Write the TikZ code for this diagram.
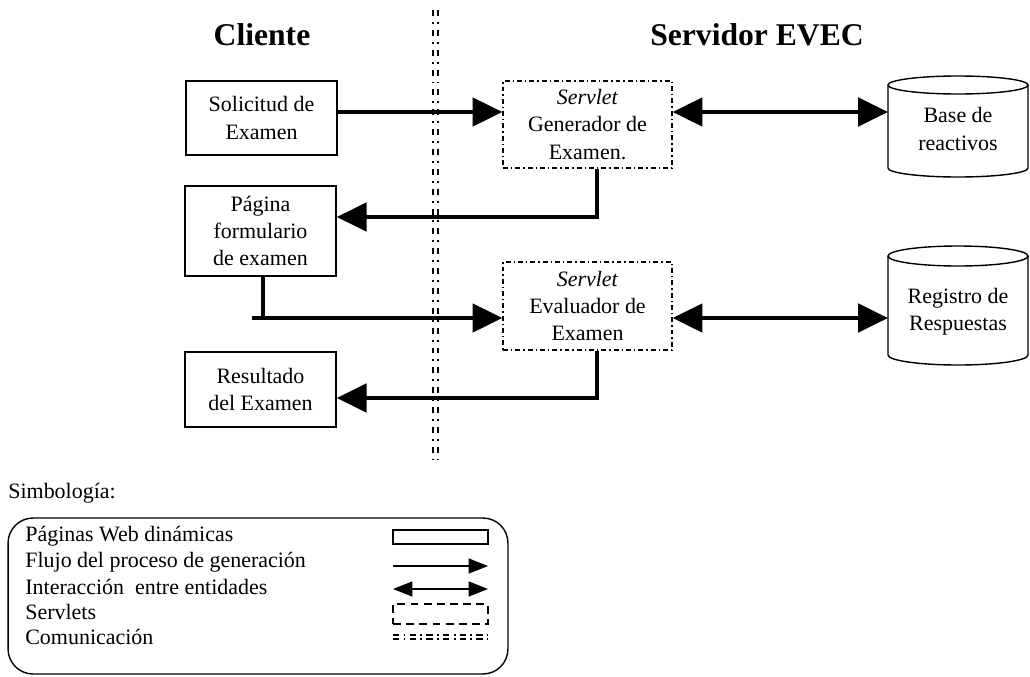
\documentclass[tikz,border=0pt]{standalone}
\usepackage{fontspec}
\setmainfont{Liberation Serif}
\usetikzlibrary{arrows.meta,calc}
\begin{document}
\begin{tikzpicture}[x=0.02cm,y=-0.02cm,
  txt/.style={font=\fontsize{12.5}{15.5}\selectfont, align=center},
  ltxt/.style={font=\fontsize{12.5}{15}\selectfont, anchor=west, inner sep=0pt},
  pagebox/.style={draw, line width=0.8pt, minimum width=3.02cm, inner sep=0pt, txt},
  servletbox/.style={draw, line width=0.7pt, dash pattern=on 2.8pt off 1.7pt on 0.8pt off 1.7pt, minimum width=3.38cm, inner sep=0pt, txt},
  flow/.style={line width=2.6pt, -{Triangle[length=17pt,width=16pt]}},
  inter/.style={line width=2.6pt, {Triangle[length=17pt,width=16pt]}-{Triangle[length=17pt,width=16pt]}},
  thickline/.style={line width=2.6pt},
  titletxt/.style={font=\fontsize{18}{22}\selectfont\bfseries},
  cyl/.style={line width=0.8pt},
  commline/.style={line width=0.8pt, dash pattern=on 3.4pt off 3.4pt on 1.1pt off 3.4pt},
  lflow/.style={line width=0.8pt, -{Triangle[length=11pt,width=8.5pt]}},
  linter/.style={line width=0.8pt, {Triangle[length=11pt,width=8.5pt]}-{Triangle[length=11pt,width=8.5pt]}},
  lcomm/.style={line width=0.8pt, dash pattern=on 3.6pt off 2.4pt on 1.1pt off 2.4pt},
]
\useasboundingbox (0,0) rectangle (1030,676);

% titles
\node[titletxt] (tc) at (262,35) {Cliente};
\node[titletxt] (ts) at (757,35) {Servidor EVEC};

% divider
\draw[commline] (433,10) -- (433,460);
\draw[commline] (438,10) -- (438,460);

% client pages
\node[pagebox, minimum height=1.48cm] (sol) at (261.5,118) {Solicitud de\\Examen};
\node[pagebox, minimum height=1.8cm] (pag) at (260.5,231) {Página\\formulario\\de examen};
\node[pagebox, minimum height=1.5cm] (res) at (260.5,389.5) {Resultado\\del Examen};

% servlets
\node[servletbox, minimum height=1.74cm] (gen) at (587.5,124.5) {\textit{Servlet}\\Generador de\\Examen.};
\node[servletbox, minimum height=1.76cm] (eval) at (587.5,306) {\textit{Servlet}\\Evaluador de\\Examen};

% cylinders
\draw[cyl] (958,85) ellipse[x radius=70, y radius=9];
\draw[cyl] (888,85) -- (888,168) arc[start angle=180, end angle=0, x radius=70, y radius=9] -- (1028,85);
\node[txt] (bdr) at (958,129) {Base de\\reactivos};
\draw[cyl] (958,256) ellipse[x radius=70, y radius=10];
\draw[cyl] (888,256) -- (888,355) arc[start angle=180, end angle=0, x radius=70, y radius=10] -- (1028,256);
\node[txt] (reg) at (958,312) {Registro de\\Respuestas};

\coordinate (c1) at (888,112);
\coordinate (c2) at (888,318);
\coordinate (k1) at (597,217);
\coordinate (k2) at (263,318);
\coordinate (k3) at (597,398);

% connectors
\draw[flow] ([yshift=0.12cm]sol.east) -- ([yshift=0.12cm]sol.east -| gen.west);
\draw[inter] (gen.east |- c1) -- (c1);
\draw[flow] (gen.south -| k1) -- (k1) -- (k1 -| pag.east);
\draw[thickline] (pag.south -| k2) -- (k2);
\draw[flow] ([xshift=-0.22cm]k2) -- (k2 -| eval.west);
\draw[inter] (eval.east |- c2) -- (c2);
\draw[flow] (eval.south -| k3) -- (k3) -- (k3 -| res.east);

% legend
\node[txt, anchor=west, inner sep=0pt] (simb) at (8,493) {Simbología:};
\node[draw, line width=0.8pt, rounded corners=0.5cm, minimum width=10cm, minimum height=3.12cm] (leg) at (258,596) {};
\node[ltxt] (l1) at (25,536) {Páginas Web dinámicas};
\node[ltxt] (l2) at (25,562) {Flujo del proceso de generación};
\node[ltxt] (l3) at (25,587) {Interacción\ \ entre entidades};
\node[ltxt] (l4) at (25,612) {Servlets};
\node[ltxt] (l5) at (25,637) {Comunicación};

\node[draw, line width=0.8pt, minimum width=1.9cm, minimum height=0.28cm, inner sep=0pt] (s1) at (440.5,537) {};
\coordinate (f1a) at (393,566);
\coordinate (f1b) at (488,566);
\draw[lflow] (f1a) -- (f1b);
\coordinate (f2a) at (393,589);
\coordinate (f2b) at (488,589);
\draw[linter] (f2a) -- (f2b);
\node[draw, line width=0.8pt, dash pattern=on 4.5pt off 3pt, minimum width=1.9cm, minimum height=0.4cm, inner sep=0pt] (s4) at (440.5,614) {};
\draw[lcomm] (393,635) -- (488,635);
\draw[lcomm] (393,639) -- (488,639);
\end{tikzpicture}
\end{document}
